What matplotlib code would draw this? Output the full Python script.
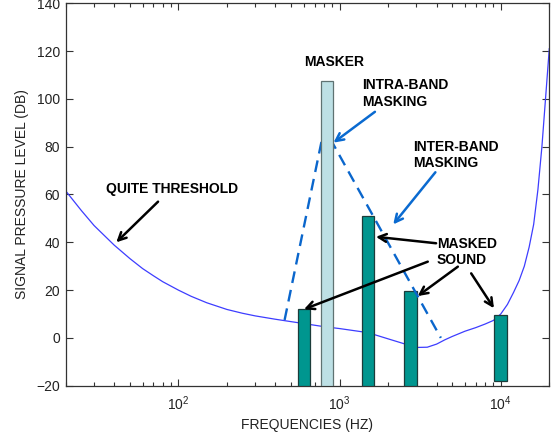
import numpy as np
import matplotlib
matplotlib.use('Agg')
import matplotlib.pyplot as plt

plt.rcParams['font.family'] = ['Liberation Sans', 'DejaVu Sans']
plt.rcParams['mathtext.fontset'] = 'custom'
plt.rcParams['mathtext.rm'] = 'Liberation Sans'
plt.rcParams['mathtext.it'] = 'Liberation Sans:italic'

# ---- data ----
threshold_freq = [20, 25, 30, 40, 50, 60, 70, 80, 100, 120, 150, 200, 250, 300, 400, 500,
                  600, 700, 800, 1000, 1500, 2000, 2500, 3000, 3500, 4000, 4500, 5000,
                  6000, 7000, 8000, 9000, 10000, 11000, 12000, 13000, 14000, 15000,
                  16000, 17000, 18000, 19000, 20000]
threshold_db = [61.5, 53.3, 47.0, 38.8, 33.2, 29.0, 26.0, 23.5, 20.0, 17.4, 14.7, 11.9, 10.3,
                9.2, 7.8, 6.8, 6.0, 5.3, 4.7, 3.9, 2.2, -0.4, -2.4, -4.0, -3.9, -2.6, -0.8,
                0.6, 2.8, 4.3, 5.8, 7.3, 10.0, 14.0, 19.0, 24.0, 30.0, 38.0, 47.5, 62.0,
                80.0, 101.0, 121.0]

masked_freq = [600, 1500, 2750, 10000]
masked_top = [12, 51, 19.5, 9.5]
masked_bottom = [-20, -20, -20, -18]

masker_freq = [836]
masker_top = [107.5]
masker_bottom = [-20]

spread_freq = [456, 804, 4250]
spread_db = [7.5, 87.8, 0]

y_ticks = [-20, 0, 20, 40, 60, 80, 100, 120, 140]

# ---- figure ----
fig = plt.figure(figsize=(5.55, 4.36), dpi=100)
ax = fig.add_axes([0.1184, 0.1154, 0.8713, 0.877])
ax.set_xscale('log')
ax.set_xlim(20, 20000)
ax.set_ylim(-20, 140)

hw = 0.039  # half bar width in decades


def log_bars(freqs, tops, bottoms, **kw):
    f = np.asarray(freqs, float)
    left = f / 10 ** hw
    width = f * (10 ** hw - 10 ** -hw)
    h = np.asarray(tops, float) - np.asarray(bottoms, float)
    ax.bar(left, h, width=width, bottom=bottoms, align='edge', **kw)


ax.plot(threshold_freq, threshold_db, color='#3d3dff', lw=0.9, zorder=2)
log_bars(masked_freq, masked_top, masked_bottom, color='#00968f',
         edgecolor='#1c3c3a', linewidth=0.9, zorder=3)
ax.plot(spread_freq, spread_db, color='#0a66cc', lw=1.7, ls=(0, (5, 3)), zorder=4)
log_bars(masker_freq, masker_top, masker_bottom, color='#bde0e5',
         edgecolor='#5f7272', linewidth=0.9, zorder=5)

# ---- annotations ----
tkw = dict(fontsize=10, fontweight='bold', color='black', zorder=6)
blk = dict(arrowstyle='->', color='black', lw=1.8, mutation_scale=14, shrinkA=0, shrinkB=0)
blu = dict(arrowstyle='->', color='#0a6ad0', lw=1.8, mutation_scale=14, shrinkA=0, shrinkB=0)

ax.text(91.8, 62.3, 'QUITE THRESHOLD', ha='center', va='center', **tkw)
ax.annotate('', xy=(41.2, 40.0), xytext=(74.8, 57.0), arrowprops=blk, zorder=6)

ax.text(921, 115.3, 'MASKER', ha='center', va='center', **tkw)

ax.text(1389, 102.3, 'INTRA-BAND\nMASKING', ha='left', va='center', linespacing=1.2, **tkw)
ax.annotate('', xy=(917, 81.7), xytext=(1657, 94.6), arrowprops=blu, zorder=6)

ax.text(2843, 76.5, 'INTER-BAND\nMASKING', ha='left', va='center', linespacing=1.2, **tkw)
ax.annotate('', xy=(2153, 47.5), xytext=(3930, 69.3), arrowprops=blu, zorder=6)

ax.text(4010, 36.1, 'MASKED\nSOUND', ha='left', va='center', linespacing=1.2, **tkw)
ax.annotate('', xy=(1681, 42.3), xytext=(3970, 39.6), arrowprops=blk, zorder=6)
ax.annotate('', xy=(602, 12.0), xytext=(3525, 31.9), arrowprops=blk, zorder=6)
ax.annotate('', xy=(3053, 17.5), xytext=(5416, 29.8), arrowprops=blk, zorder=6)
ax.annotate('', xy=(9072, 12.4), xytext=(6553, 27.0), arrowprops=blk, zorder=6)

# ---- axes styling ----
ax.set_yticks(y_ticks)
ax.tick_params(axis='both', which='both', direction='in', top=True, right=True,
               labelsize=10, labelcolor='#222222', color='#333333')
ax.tick_params(axis='both', which='major', length=5, width=0.8)
ax.tick_params(axis='x', which='minor', length=3, width=0.8)
ax.tick_params(axis='x', which='major', pad=6)
ax.tick_params(axis='y', which='major', pad=4)
for s in ax.spines.values():
    s.set_linewidth(0.9)
    s.set_color('#333333')

ax.set_xlabel('FREQUENCIES (HZ)', fontsize=10, color='#222222', labelpad=4)
ax.set_ylabel('SIGNAL PRESSURE LEVEL (DB)', fontsize=10, color='#222222', labelpad=5)

fig.savefig('out.png', dpi=100)
